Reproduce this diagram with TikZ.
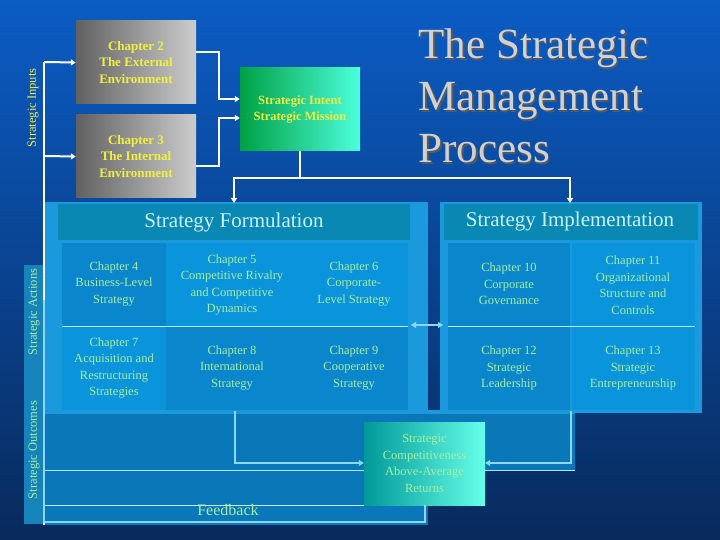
\documentclass[tikz,border=0pt]{standalone}
\usepackage{fontspec}
\setmainfont{Liberation Serif}
\usetikzlibrary{arrows.meta}
\definecolor{bgtop}{HTML}{0B5CC4}
\definecolor{bgbot}{HTML}{082A5C}
\definecolor{frame}{HTML}{1A9ADC}
\definecolor{hdr}{HTML}{0A88B4}
\definecolor{cellA}{HTML}{0A86CC}
\definecolor{cellB}{HTML}{0A94DC}
\definecolor{low}{HTML}{0A78B8}
\definecolor{txtg}{HTML}{A8F0A0}
\definecolor{txty}{HTML}{F0F040}
\definecolor{hdrtxt}{HTML}{C8F4FF}
\definecolor{lineb}{HTML}{8AD8FF}
\tikzset{
 cell/.style={inner sep=0pt, align=center, text=txtg, font=\fontsize{12.5}{16.5}\selectfont},
 graybox/.style={minimum width=120pt, minimum height=83pt, inner sep=0pt, align=center, text=txty, font=\fontsize{13}{16.5}\selectfont\bfseries, left color=black!62, right color=black!20},
 wline/.style={white, line width=2pt},
 warr/.style={wline, -{Triangle[width=6pt,length=5pt]}},
 barr/.style={lineb, line width=2.5pt, -{Triangle[width=6pt,length=5pt]}},
 hdrtext/.style={text=hdrtxt, font=\fontsize{21}{24}\selectfont},
 side/.style={rotate=90, font=\fontsize{12.5}{14}\selectfont},
 ttl/.style={align=left, anchor=west, font=\fontsize{43}{52}\selectfont},
}
\begin{document}
\begin{tikzpicture}[x=1pt,y=-1pt]
\useasboundingbox (0,0) rectangle (720,540);
\shade[top color=bgtop, bottom color=bgbot] (0,0) rectangle (720,540);
% panels
\fill[frame] (44,202) rectangle (428,412);
\fill[low] (44,412) rectangle (575,470);
\fill[low] (44,470) rectangle (428,525);
\draw[lineb!70, line width=1pt] (44,470) -- (575,470);
\draw[lineb!50, line width=0.6pt] (44,505) -- (364,505);
\fill[frame] (44,410) rectangle (575,414);
\fill[frame] (440,202) rectangle (702,413);
\fill[hdr] (58,204) rectangle (410,240);
\fill[hdr] (444,204) rectangle (698,240);
\fill[frame!85!black] (24,265) rectangle (43,524);
% cells
\fill[cellA] (62,243) rectangle (166,326);
\fill[cellB] (166,243) rectangle (300,326);
\fill[cellB] (300,243) rectangle (408,326);
\fill[cellB] (62,326) rectangle (166,410);
\fill[cellA] (166,326) rectangle (300,410);
\fill[cellA] (300,326) rectangle (408,410);
\fill[cellA] (448,243) rectangle (570,326);
\fill[cellB] (572,243) rectangle (695,326);
\fill[cellA] (448,326) rectangle (570,410);
\fill[cellB] (572,326) rectangle (695,410);
\draw[lineb!60, line width=0.5pt] (62,326) -- (408,326) (448,326) -- (695,326);
% headers
\node[hdrtext] (form) at (234,222) {Strategy Formulation};
\node[hdrtext] (impl) at (570,221) {Strategy Implementation};
% cell texts
\node[cell] (c4) at (114,284) {Chapter 4\\Business-Level\\Strategy};
\node[cell] (c5) at (232,285) {Chapter 5\\Competitive Rivalry\\and Competitive\\Dynamics};
\node[cell] (c6) at (354,284) {Chapter 6\\Corporate-\\Level Strategy};
\node[cell] (c7) at (114,368) {Chapter 7\\Acquisition and\\Restructuring\\Strategies};
\node[cell] (c8) at (232,368) {Chapter 8\\International\\Strategy};
\node[cell] (c9) at (354,368) {Chapter 9\\Cooperative\\Strategy};
\node[cell] (c10) at (509,284) {Chapter 10\\Corporate\\Governance};
\node[cell] (c11) at (633,285) {Chapter 11\\Organizational\\Structure and\\Controls};
\node[cell] (c12) at (509,368) {Chapter 12\\Strategic\\Leadership};
\node[cell] (c13) at (633,368) {Chapter 13\\Strategic\\Entrepreneurship};
% top boxes
\node[graybox] (ch2) at (136,62.5) {Chapter 2\\The External\\Environment};
\node[graybox] (ch3) at (136,156.5) {Chapter 3\\The Internal\\Environment};
\node[minimum width=120pt, minimum height=83pt, inner sep=0pt, align=center, text=txty, font=\fontsize{12.5}{16.5}\selectfont\bfseries, left color=green!40!teal!90!black, right color=cyan!80!green!70] (intent) at (300,109.5) {Strategic Intent\\Strategic Mission};
% title
\node[ttl, text=black!65] at (416.5,97.5) {The Strategic\\Management\\Process};
\node[ttl, text=black!18] (title) at (415,96) {The Strategic\\Management\\Process};
% side labels
\node[side, text=txty] (sin) at (33,108) {Strategic Inputs};
\node[side, text=txtg] (sact) at (34,312) {Strategic Actions};
\node[side, text=txtg] (sout) at (34,450) {Strategic Outcomes};
% outcome box
\node[minimum width=121pt, minimum height=83pt, inner sep=0pt, align=center, text=txtg, font=\fontsize{12.5}{16.5}\selectfont, left color=teal!80!cyan, right color=cyan!85!green!60] (out) at (424.5,463.5) {Strategic\\Competitiveness\\Above-Average\\Returns};
\node[text=txtg, font=\fontsize{16}{18}\selectfont] (fb) at (228,510) {Feedback};
% connectors
\coordinate (l1) at (44,62);
\coordinate (l2) at (44,156);
\draw[wline] (44,525) -- (l1);
\draw[warr] (l1) -- (ch2.west);
\draw[warr] (l2) -- (ch3.west);
\draw[warr] (ch2.east |- 0,52) -| (219,99) -- (intent.west |- 0,99);
\draw[warr] (ch3.east |- 0,166) -| (219,118) -- (intent.west |- 0,118);
\draw[wline] (intent.south) -- (300,178);
\draw[warr] (234,178) -- (234,203);
\draw[warr] (570,178) -- (570,203);
\draw[wline] (233,178) -- (571,178);
\draw[lineb, line width=1.5pt, {Triangle[width=6pt,length=5pt]}-{Triangle[width=6pt,length=5pt]}] (411,325) -- (443,325);
\draw[barr] (235,411) -- (235,463) -- (out.west |- 0,463);
\draw[barr] (571,411) -- (571,463) -- (out.east |- 0,463);
\draw[lineb, line width=2.5pt] (out.south -| 425,0) -- (425,522) -- (44,522) -- (44,300);
\end{tikzpicture}
\end{document}
